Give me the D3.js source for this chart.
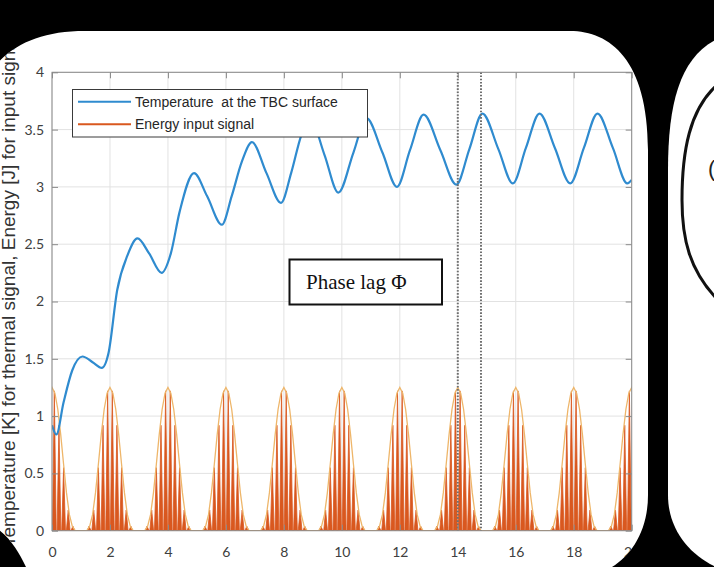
<!DOCTYPE html>
<html>
<head>
<meta charset="utf-8">
<script src="https://cdn.jsdelivr.net/npm/d3@7"></script>
<style>
  html, body { margin: 0; padding: 0; background: #000; }
  svg { display: block; }
</style>
</head>
<body>
<svg id="chart" width="714" height="567"></svg>
<script>
// ---- data ----
const xTicks = [0, 2, 4, 6, 8, 10, 12, 14, 16, 18, 20];
const yTicks = [0, 0.5, 1, 1.5, 2, 2.5, 3, 3.5, 4];
const yTickLabels = ["0", "0.5", "1", "1.5", "2", "2.5", "3", "3.5", "4"];

// surface temperature response (time, value)
const tempTime  = [0, 0.15, 0.4, 0.7, 1.05, 1.4, 1.72, 1.95, 2.25, 2.6, 2.95, 3.35, 3.78,
                   4.1, 4.4, 4.9, 5.35, 5.86, 6.2, 6.55, 6.9, 7.4, 7.9, 8.25, 8.6, 8.9,
                   9.4, 9.88, 10.4, 10.85, 11.4, 11.9, 12.35, 12.82, 13.4, 13.95, 14.4,
                   14.85, 15.4, 15.9, 16.35, 16.82, 17.35, 17.88, 18.35, 18.82, 19.35, 19.85, 20];
const tempValue = [0.92, 0.84, 1.12, 1.40, 1.52, 1.47, 1.42, 1.55, 2.10, 2.40, 2.55, 2.42, 2.25,
                   2.42, 2.78, 3.12, 2.92, 2.67, 2.92, 3.22, 3.39, 3.12, 2.86, 3.12, 3.45, 3.60,
                   3.28, 2.95, 3.30, 3.60, 3.30, 3.00, 3.32, 3.63, 3.32, 3.02, 3.33,
                   3.64, 3.33, 3.03, 3.34, 3.64, 3.34, 3.03, 3.34, 3.64, 3.34, 3.03, 3.06];

// energy input: pulse centres, spikes within one pulse, and the pulse envelope
const pulseCenters = [0, 2, 4, 6, 8, 10, 12, 14, 16, 18, 20];
const spikeOffsets = [-0.72, -0.56, -0.40, -0.24, -0.08, 0.08, 0.24, 0.40, 0.56, 0.72];
const spikeHeights = [0.04, 0.18, 0.55, 0.92, 1.22, 1.22, 0.92, 0.55, 0.18, 0.04];
const envelopeOffsets = [-0.8, -0.7, -0.6, -0.5, -0.4, -0.3, -0.2, -0.1, 0, 0.1, 0.2, 0.3, 0.4, 0.5, 0.6, 0.7, 0.8];
const envelopeValues  = [0, 0.04, 0.14, 0.33, 0.58, 0.84, 1.06, 1.20, 1.25, 1.20, 1.06, 0.84, 0.58, 0.33, 0.14, 0.04, 0];

const phaseMarks = [14, 14.8];
const legendLabels = ["Temperature  at the TBC surface", "Energy input signal"];
const yLabel = "Temperature [K] for thermal signal, Energy [J] for input signal";
const annotation = "Phase lag \u03A6";

// ---- styles ----
const BLUE = "#2f8bcf", ORANGE = "#d9581f", ENVELOPE = "#eeb66a";
const TICK_FONT = "Lato, 'Open Sans', sans-serif";
const SANS = "'Liberation Sans', Arial, sans-serif";

const svg = d3.select("#chart");
svg.append("rect").attr("width", 714).attr("height", 567).attr("fill", "#000");

// slide panels (photographed, rounded corners)
const panelPath = "M 85,31 L 570,31 C 610,31 648,60 648,150 L 648,495 C 648,530 632,555 612,567 " +
                  "L 26,567 C 18,550 8,534 -10,524 L -10,72 C 10,45 40,31 85,31 Z";
const rightPanelPath = "M 760,30 C 690,31 668,80 668,170 L 668,495 C 668,530 690,555 716,567 L 760,567 Z";

const defs = svg.append("defs");
defs.append("clipPath").attr("id", "panelClip").append("path").attr("d", panelPath);

svg.append("path").attr("d", panelPath).attr("fill", "#fff");
svg.append("path").attr("d", rightPanelPath).attr("fill", "#fff");
svg.append("path")
  .attr("d", "M 716,86 C 690,110 682,150 682,200 C 682,240 690,270 716,298")
  .attr("fill", "none").attr("stroke", "#111").attr("stroke-width", 3);
svg.append("text").attr("x", 708).attr("y", 176).attr("font-family", SANS)
  .attr("font-size", 22).attr("fill", "#222").text("(");

const g = svg.append("g").attr("clip-path", "url(#panelClip)");

// ---- scales ----
const x = d3.scaleLinear().domain([0, 20]).range([52, 631.7]);
const y = d3.scaleLinear().domain([0, 4]).range([530.7, 72.3]);
const [x0, x1] = x.range();
const [y0, y1] = y.range();

defs.append("clipPath").attr("id", "plotClip").append("rect")
  .attr("x", x0).attr("y", y1).attr("width", x1 - x0).attr("height", y0 - y1);

// grid
g.append("g").selectAll("line").data(xTicks).join("line")
  .attr("x1", d => x(d)).attr("x2", d => x(d)).attr("y1", y1).attr("y2", y0)
  .attr("stroke", "#e2e2e2").attr("stroke-width", 1);
g.append("g").selectAll("line").data(yTicks).join("line")
  .attr("x1", x0).attr("x2", x1).attr("y1", d => y(d)).attr("y2", d => y(d))
  .attr("stroke", "#e2e2e2").attr("stroke-width", 1);

const plot = g.append("g").attr("clip-path", "url(#plotClip)");

// energy input spikes
const spikePts = [];
pulseCenters.forEach(c => {
  spikeOffsets.forEach((o, i) => {
    spikePts.push([c + o - 0.065, 0], [c + o, spikeHeights[i]], [c + o + 0.065, 0]);
  });
});
const lineXY = d3.line().x(d => x(d[0])).y(d => y(d[1]));
plot.append("path").attr("d", lineXY(spikePts))
  .attr("fill", ORANGE).attr("stroke", ORANGE).attr("stroke-width", 0.8)
  .attr("stroke-linejoin", "miter");

// pulse envelope
const envPts = [];
pulseCenters.forEach(c => envelopeOffsets.forEach((o, i) => envPts.push([c + o, envelopeValues[i]])));
plot.append("path").attr("d", lineXY(envPts))
  .attr("fill", "none").attr("stroke", ENVELOPE).attr("stroke-width", 1.3);

// temperature curve
const tempPts = tempTime.map((t, i) => [t, tempValue[i]]);
plot.append("path")
  .attr("d", d3.line().x(d => x(d[0])).y(d => y(d[1])).curve(d3.curveMonotoneX)(tempPts))
  .attr("fill", "none").attr("stroke", BLUE).attr("stroke-width", 2.2);

// phase lag markers
g.append("g").selectAll("line").data(phaseMarks).join("line")
  .attr("x1", d => x(d)).attr("x2", d => x(d)).attr("y1", y1).attr("y2", y0)
  .attr("stroke", "#6f6f6f").attr("stroke-width", 2).attr("stroke-dasharray", "1.6,1.6");

// axes (ticks pointing inward on all four sides)
function styleAxis(sel) {
  sel.select(".domain").remove();
  sel.selectAll(".tick line").attr("stroke", "#8a8a8a");
  sel.selectAll(".tick text").attr("fill", "#404040").attr("font-family", TICK_FONT).attr("font-size", 14);
}
g.append("g").attr("transform", `translate(0,${y0})`)
  .call(d3.axisBottom(x).tickValues(xTicks).tickSize(-6).tickPadding(16).tickFormat(d3.format("d")))
  .call(styleAxis);
g.append("g").attr("transform", `translate(0,${y1})`)
  .call(d3.axisTop(x).tickValues(xTicks).tickSize(-6).tickFormat(""))
  .call(styleAxis);
g.append("g").attr("transform", `translate(${x0},0)`)
  .call(d3.axisLeft(y).tickValues(yTicks).tickSize(-6).tickPadding(8).tickFormat((d, i) => yTickLabels[i]))
  .call(styleAxis);
g.append("g").attr("transform", `translate(${x1},0)`)
  .call(d3.axisRight(y).tickValues(yTicks).tickSize(-6).tickFormat(""))
  .call(styleAxis);

// axes box
g.append("rect").attr("x", x0).attr("y", y1).attr("width", x1 - x0).attr("height", y0 - y1)
  .attr("fill", "none").attr("stroke", "#8a8a8a").attr("stroke-width", 1);

// y-axis title
g.append("text")
  .attr("transform", "translate(15,547) rotate(-90)")
  .attr("text-anchor", "start")
  .attr("font-family", SANS).attr("font-size", 19).attr("fill", "#333")
  .text(yLabel);

// legend
const legend = g.append("g");
legend.append("rect").attr("x", 72.5).attr("y", 89.5).attr("width", 295).attr("height", 47.5)
  .attr("fill", "#fff").attr("stroke", "#3a3a3a").attr("stroke-width", 1);
const legendColors = [BLUE, ORANGE];
const legendRows = [101.7, 124.3];
legendLabels.forEach((lab, i) => {
  legend.append("line").attr("x1", 78).attr("x2", 131).attr("y1", legendRows[i]).attr("y2", legendRows[i])
    .attr("stroke", legendColors[i]).attr("stroke-width", 2);
  legend.append("text").attr("x", 135).attr("y", legendRows[i] + 5)
    .attr("font-family", SANS).attr("font-size", 14).attr("fill", "#262626")
    .attr("xml:space", "preserve").style("white-space", "pre").text(lab);
});

// phase lag annotation
g.append("rect").attr("x", 289.5).attr("y", 259.5).attr("width", 152.5).attr("height", 45)
  .attr("fill", "#fff").attr("stroke", "#111").attr("stroke-width", 2);
g.append("text").attr("x", 306).attr("y", 289)
  .attr("font-family", "'Liberation Serif', 'Times New Roman', serif").attr("font-size", 21)
  .attr("fill", "#111").text(annotation);
</script>
</body>
</html>
